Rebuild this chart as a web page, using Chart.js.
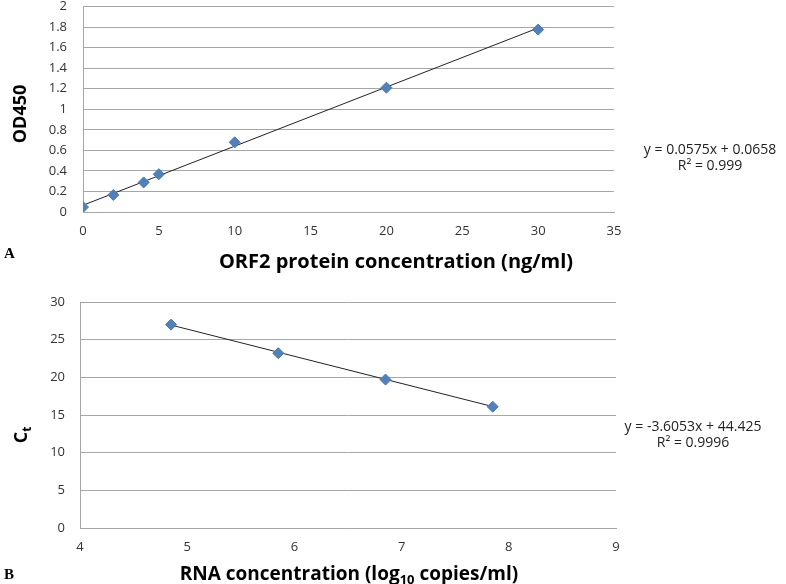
<!DOCTYPE html>
<html>
<head>
<meta charset="utf-8">
<script src="https://cdn.jsdelivr.net/npm/chart.js@4.4.1/dist/chart.umd.min.js"></script>
<style>
  html, body { margin: 0; padding: 0; background: #fff; }
  #wrap { position: relative; width: 786px; height: 584px; overflow: hidden; }
  canvas { position: absolute; left: 0; }
</style>
</head>
<body>
<div id="wrap">
  <canvas id="chartA" width="786" height="290" style="top:0"></canvas>
  <canvas id="chartB" width="786" height="294" style="top:290px"></canvas>
</div>
<script>
// Panel A: ELISA standard curve
const orf2Conc = [0, 2, 4, 5, 10, 20, 30];
const od450 = [0.048, 0.166, 0.288, 0.368, 0.678, 1.21, 1.775];
const trendAX = [0, 30];
const trendAY = [0.0658, 1.7908];

// Panel B: qPCR standard curve
const rnaLog = [4.85, 5.85, 6.85, 7.85];
const ctValues = [27.0, 23.2, 19.7, 16.1];
const trendBX = [4.85, 7.85];
const trendBY = [26.94, 16.12];

const markerColor = '#4F81BD';
const gridColor = '#a6a6a6';
const tickFont = { family: 'Open Sans', size: 13 };
const tickColor = '#333';

function toPoints(xs, ys) {
    return xs.map((x, i) => ({ x: x, y: ys[i] }));
}

// draw text made of parts, some of them subscript
function drawRich(ctx, item) {
    const size = item.size;
    const family = item.family || 'Open Sans';
    const weight = item.weight || 'normal';
    const subSize = Math.round(size * 0.68);
    let total = 0;
    item.parts.forEach(p => {
        ctx.font = weight + ' ' + (p.sub ? subSize : size) + 'px "' + family + '"';
        p.w = ctx.measureText(p.text).width;
        total += p.w;
    });
    ctx.save();
    ctx.translate(item.x, item.y);
    if (item.rotate) ctx.rotate(item.rotate);
    ctx.fillStyle = item.color || '#000';
    ctx.textBaseline = 'middle';
    ctx.textAlign = 'left';
    let cx = item.align === 'left' ? 0 : -total / 2;
    item.parts.forEach(p => {
        ctx.font = weight + ' ' + (p.sub ? subSize : size) + 'px "' + family + '"';
        ctx.fillText(p.text, cx, p.sub ? size * 0.3 : 0);
        cx += p.w;
    });
    ctx.restore();
}

const extraText = {
    id: 'extraText',
    afterDraw(chart, args, opts) {
        (opts.items || []).forEach(item => drawRich(chart.ctx, item));
    }
};

function yFit(width) {
    return function (scale) {
        scale.width = width;
        scale.paddingTop = 0;
        scale.paddingBottom = 0;
    };
}
function xFit(height) {
    return function (scale) {
        scale.height = height;
        scale.paddingLeft = 0;
        scale.paddingRight = 0;
    };
}

// 2.0 -> "2", 0.6000001 -> "0.6"
function shortNum(value) {
    return String(Math.round(value * 10) / 10);
}

function makeChart(id, cfg) {
    return new Chart(document.getElementById(id).getContext('2d'), {
        type: 'scatter',
        data: {
            datasets: [{
                data: toPoints(cfg.xs, cfg.ys),
                pointStyle: 'rectRot',
                pointRadius: 5.5,
                backgroundColor: markerColor,
                borderColor: '#4677b5',
                borderWidth: 1,
                order: 0
            }, {
                data: toPoints(cfg.tx, cfg.ty),
                showLine: true,
                pointRadius: 0,
                borderColor: '#222',
                borderWidth: 1,
                order: 1
            }]
        },
        options: {
            responsive: false,
            animation: false,
            events: [],
            layout: { padding: cfg.padding },
            plugins: {
                legend: { display: false },
                tooltip: { enabled: false },
                extraText: { items: cfg.texts }
            },
            scales: {
                x: {
                    type: 'linear',
                    min: cfg.xMin, max: cfg.xMax,
                    ticks: { stepSize: cfg.xStep, font: tickFont, color: tickColor, padding: cfg.xPad, callback: shortNum },
                    grid: { display: false, drawTicks: false },
                    border: { display: true, color: gridColor, width: 1 },
                    afterFit: xFit(cfg.xHeight)
                },
                y: {
                    type: 'linear',
                    min: cfg.yMin, max: cfg.yMax,
                    ticks: { stepSize: cfg.yStep, font: tickFont, color: tickColor, padding: cfg.yPad, callback: shortNum },
                    grid: { color: gridColor, lineWidth: 1, drawTicks: false },
                    border: { display: true, color: gridColor, width: 1 },
                    afterFit: yFit(cfg.yWidth)
                }
            }
        },
        plugins: [extraText]
    });
}

// Grafik A
makeChart('chartA', {
    xs: orf2Conc, ys: od450, tx: trendAX, ty: trendAY,
    xMin: 0, xMax: 35, xStep: 5,
    yMin: 0, yMax: 2, yStep: 0.2,
    padding: { top: 4, right: 172, left: 0, bottom: 0 },
    yWidth: 83, xHeight: 78, xPad: 11, yPad: 16,
    texts: [
        { parts: [{ text: 'OD450' }], x: 21, y: 114, size: 18, weight: 'bold', rotate: -Math.PI / 2 },
        { parts: [{ text: 'ORF2 protein concentration (ng/ml)' }], x: 396, y: 262, size: 20, weight: 'bold' },
        { parts: [{ text: 'y = 0.0575x + 0.0658' }], x: 710, y: 150, size: 14, color: '#222' },
        { parts: [{ text: 'R² = 0.999' }], x: 710, y: 166, size: 14, color: '#222' },
        { parts: [{ text: 'A' }], x: 4, y: 254, size: 15, weight: 'bold', family: 'Liberation Serif', align: 'left' }
    ]
});

// Grafik B
makeChart('chartB', {
    xs: rnaLog, ys: ctValues, tx: trendBX, ty: trendBY,
    xMin: 4, xMax: 9, xStep: 1,
    yMin: 0, yMax: 30, yStep: 5,
    padding: { top: 12, right: 170, left: 0, bottom: 0 },
    yWidth: 80, xHeight: 56, xPad: 11, yPad: 15,
    texts: [
        { parts: [{ text: 'C' }, { text: 't', sub: true }], x: 22, y: 145, size: 18, weight: 'bold', rotate: -Math.PI / 2 },
        { parts: [{ text: 'RNA concentration (log' }, { text: '10', sub: true }, { text: ' copies/ml)' }], x: 349, y: 285, size: 19, weight: 'bold' },
        { parts: [{ text: 'y = -3.6053x + 44.425' }], x: 693, y: 137, size: 14, color: '#222' },
        { parts: [{ text: 'R² = 0.9996' }], x: 693, y: 153, size: 14, color: '#222' },
        { parts: [{ text: 'B' }], x: 4, y: 285, size: 15, weight: 'bold', family: 'Liberation Serif', align: 'left' }
    ]
});
</script>
</body>
</html>
